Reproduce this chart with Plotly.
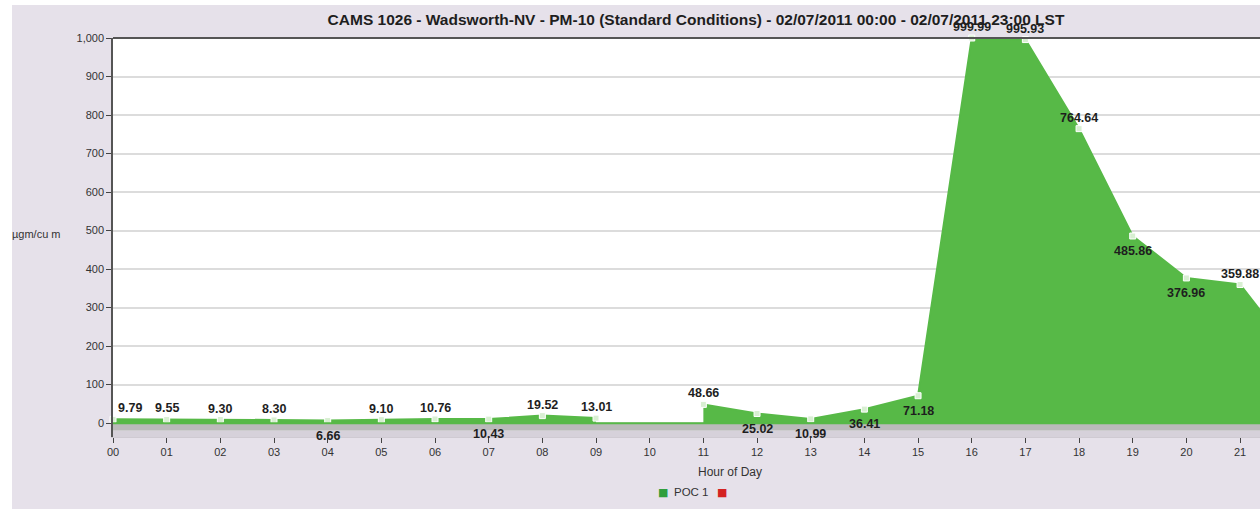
import plotly.graph_objects as go

hours = list(range(0, 23))
hour_labels = [f"{h:02d}" for h in range(0, 24)]
pm10 = [9.79, 9.55, 9.30, 8.30, 6.66, 9.10, 10.76, 10.43, 19.52, 13.01, None,
        48.66, 25.02, 10.99, 36.41, 71.18, 999.99, 995.93, 764.64, 485.86,
        376.96, 359.88, 180.0]
# where each value label sits relative to its point
label_side = ["above-right", "above", "above", "above", "below",
              "above", "above", "below", "above", "above",
              "above", "above", "below", "below", "below",
              "below", "above", "above", "above", "below",
              "below", "above", "above"]
legend_names = ["POC 1", ""]
legend_colors = ["#2f9e3c", "#d42222"]

FILL = "#57b947"
LAV = "#e6e1ea"
FONT = "Liberation Sans, Arial, sans-serif"
W, H = 1260, 509
L, T, B = 113, 38, 72
PW = W - L
PH = H - T - B
px_per_hour = 53.67
xmax = PW / px_per_hour

def px_x(p):
    return (p - L) / PW

def px_y(p):
    return (H - B - p) / PH

# split the series into contiguous segments at missing hours
segments = []
cur = []
for i, v in enumerate(pm10):
    if v is None:
        if cur:
            segments.append(cur)
        cur = []
    else:
        cur.append(i)
if cur:
    segments.append(cur)

fig = go.Figure()
for seg in segments:
    fig.add_trace(go.Scatter(
        x=[hours[i] for i in seg], y=[pm10[i] for i in seg],
        mode="lines+markers", fill="tozeroy",
        fillcolor=FILL, line=dict(color=FILL, width=2),
        marker=dict(symbol="square", size=6, color="#d8efd2", line=dict(color="#ffffff", width=1)),
        showlegend=False, cliponaxis=False,
    ))

shapes = [
    # floor band
    dict(type="rect", xref="x", yref="y", x0=0, x1=xmax + 1, y0=-20, y1=0,
         fillcolor="#bababa", line=dict(width=0), layer="below"),
    dict(type="rect", xref="x", yref="y", x0=0, x1=xmax + 1, y0=-36, y1=-20,
         fillcolor="#d6d1da", line=dict(width=0), layer="below"),
    dict(type="line", xref="x", yref="y", x0=0, x1=xmax + 1, y0=0, y1=0,
         line=dict(color=FILL, width=2), layer="above"),
    # white image border
    dict(type="rect", xref="paper", yref="paper", x0=px_x(0), x1=px_x(12), y0=px_y(H), y1=px_y(0),
         fillcolor="white", line=dict(width=0), layer="below"),
    dict(type="rect", xref="paper", yref="paper", x0=px_x(0), x1=px_x(W), y0=px_y(5), y1=px_y(0),
         fillcolor="white", line=dict(width=0), layer="below"),
    # top border line
    dict(type="line", xref="paper", yref="paper", x0=0, x1=1, y0=1, y1=1,
         line=dict(color="#555", width=2), layer="above"),
]

annotations = [
    dict(text="µgm/cu m", xref="paper", yref="paper", x=px_x(63), y=px_y(234),
         xanchor="right", yanchor="middle", showarrow=False,
         font=dict(family=FONT, size=11, color="#333")),
    dict(text="Hour of Day", xref="paper", yref="paper", x=px_x(730), y=px_y(472),
         xanchor="center", yanchor="middle", showarrow=False,
         font=dict(family=FONT, size=12, color="#333")),
]
# value labels
for i, v in enumerate(pm10):
    if v is None or hours[i] > xmax:
        continue
    side = label_side[i]
    ysh = 11 if side.startswith("above") else -15
    xsh = 17 if side.endswith("right") else 0
    annotations.append(dict(text=f"{v:.2f}", x=hours[i], y=v, xref="x", yref="y",
                            xshift=xsh, yshift=ysh, showarrow=False,
                            xanchor="center", yanchor="middle",
                            font=dict(family=FONT, size=12.5, color="#1e1e1e", weight="bold")))
# legend (drawn as text items)
leg_x = [663, 722]
for name, col, lx in zip(legend_names, legend_colors, leg_x):
    annotations.append(dict(text="■", xref="paper", yref="paper", x=px_x(lx), y=px_y(492),
                            xanchor="center", yanchor="middle", showarrow=False,
                            font=dict(family="DejaVu Sans", size=11, color=col)))
    if name:
        annotations.append(dict(text=name, xref="paper", yref="paper", x=px_x(lx + 9), y=px_y(492),
                                xanchor="left", yanchor="middle", showarrow=False,
                                font=dict(family=FONT, size=11.5, color="#333")))

fig.update_layout(
    width=W, height=H,
    margin=dict(l=L, r=0, t=T, b=B),
    paper_bgcolor=LAV, plot_bgcolor="white",
    title=dict(text="CAMS 1026 - Wadsworth-NV - PM-10 (Standard Conditions) - 02/07/2011 00:00 - 02/07/2011 23:00 LST",
               xref="container", yref="container", x=696 / W, y=1 - 20 / H,
               xanchor="center", yanchor="middle",
               font=dict(family=FONT, size=15.5, color="#1e1e1e", weight="bold")),
    shapes=shapes, annotations=annotations,
    showlegend=False,
    font=dict(family=FONT, size=11, color="#333"),
)
fig.update_xaxes(range=[0, xmax], tickmode="array", tickvals=list(range(24)), ticktext=hour_labels,
                 ticks="outside", ticklen=5, tickcolor="#444", showgrid=False, zeroline=False,
                 showline=True, linecolor="#cfcad2", mirror=False,
                 tickfont=dict(size=11, color="#333"))
fig.update_yaxes(range=[-36, 1000], dtick=100, tick0=0, tickformat=",d",
                 ticks="outside", ticklen=5, tickcolor="#444",
                 showgrid=True, gridcolor="#dcdcdc", gridwidth=2, zeroline=False,
                 showline=True, linecolor="#555", linewidth=1.5,
                 tickfont=dict(size=11, color="#333"))

fig.write_html("out.html", config={"displayModeBar": False},
               post_script="document.body.style.margin='0';")
